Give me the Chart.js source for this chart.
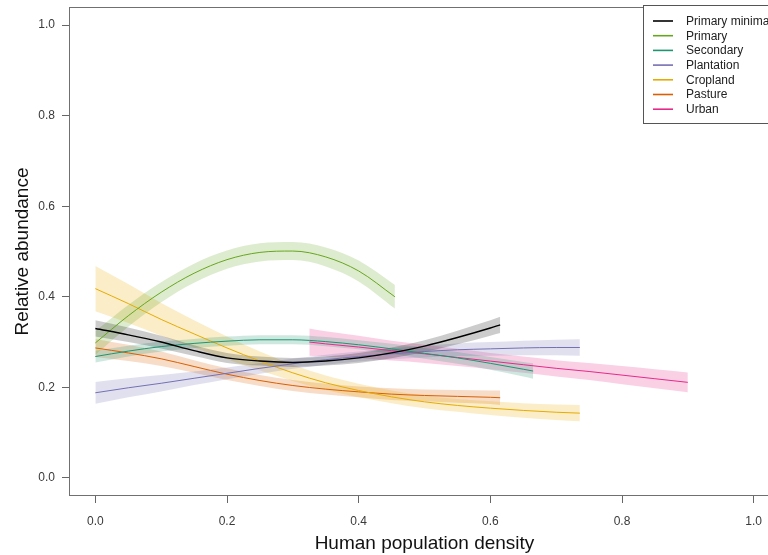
<!DOCTYPE html>
<html>
<head>
<meta charset="utf-8">
<title>Relative abundance vs human population density</title>
<script src="https://cdn.jsdelivr.net/npm/chart.js@4.4.1/dist/chart.umd.min.js"></script>
<style>
  html, body { margin: 0; padding: 0; background: #fff; }
  body { width: 768px; height: 555px; overflow: hidden; }
  #wrap { width: 780px; height: 555px; }
</style>
</head>
<body>
<div id="wrap"><canvas id="c" width="780" height="555"></canvas></div>
<script>
// Land-use series: fitted relative abundance with lower/upper confidence bounds
const seriesNames  = ['Primary minimal', 'Primary', 'Secondary', 'Plantation', 'Cropland', 'Pasture', 'Urban'];
const seriesColors = ['#000000', '#66A61E', '#1F9470', '#7570B3', '#E6AB02', '#D95F02', '#E7298A'];

const xTicks = [0, 0.2, 0.4, 0.6, 0.8, 1.0];
const yTicks = [0, 0.2, 0.4, 0.6, 0.8, 1.0];

// Primary minimal
const primMinX    = [0, 0.05, 0.1, 0.15, 0.2, 0.25, 0.3, 0.35, 0.4, 0.45, 0.5, 0.55, 0.6, 0.615];
const primMinMean = [0.330, 0.316, 0.300, 0.281, 0.265, 0.258, 0.255, 0.258, 0.265, 0.276, 0.291, 0.310, 0.331, 0.338];
const primMinLow  = [0.312, 0.300, 0.286, 0.269, 0.254, 0.248, 0.245, 0.248, 0.254, 0.264, 0.278, 0.295, 0.314, 0.320];
const primMinHigh = [0.348, 0.332, 0.314, 0.293, 0.276, 0.268, 0.265, 0.268, 0.276, 0.288, 0.304, 0.325, 0.348, 0.356];

// Primary
const primX    = [0, 0.05, 0.1, 0.15, 0.2, 0.25, 0.3, 0.35, 0.4, 0.455];
const primMean = [0.298, 0.358, 0.410, 0.452, 0.482, 0.498, 0.501, 0.488, 0.457, 0.400];
const primLow  = [0.272, 0.334, 0.388, 0.431, 0.462, 0.478, 0.481, 0.467, 0.434, 0.374];
const primHigh = [0.324, 0.382, 0.432, 0.473, 0.502, 0.518, 0.521, 0.509, 0.480, 0.426];

// Secondary
const secX    = [0, 0.05, 0.1, 0.15, 0.2, 0.25, 0.3, 0.35, 0.4, 0.45, 0.5, 0.55, 0.6, 0.65, 0.665];
const secMean = [0.268, 0.280, 0.290, 0.297, 0.302, 0.305, 0.305, 0.301, 0.294, 0.285, 0.275, 0.265, 0.253, 0.240, 0.236];
const secLow  = [0.255, 0.268, 0.279, 0.287, 0.292, 0.295, 0.295, 0.291, 0.284, 0.274, 0.263, 0.252, 0.239, 0.224, 0.219];
const secHigh = [0.281, 0.292, 0.301, 0.307, 0.312, 0.315, 0.315, 0.311, 0.304, 0.296, 0.287, 0.278, 0.267, 0.256, 0.253];

// Plantation
const plantX    = [0, 0.05, 0.1, 0.15, 0.2, 0.25, 0.3, 0.35, 0.4, 0.45, 0.5, 0.55, 0.6, 0.65, 0.7, 0.736];
const plantMean = [0.188, 0.199, 0.209, 0.220, 0.231, 0.242, 0.252, 0.261, 0.268, 0.274, 0.279, 0.283, 0.285, 0.287, 0.288, 0.288];
const plantLow  = [0.164, 0.178, 0.191, 0.205, 0.218, 0.230, 0.241, 0.250, 0.257, 0.262, 0.266, 0.269, 0.270, 0.271, 0.271, 0.270];
const plantHigh = [0.212, 0.220, 0.227, 0.235, 0.244, 0.254, 0.263, 0.272, 0.279, 0.286, 0.292, 0.297, 0.300, 0.303, 0.305, 0.306];

// Cropland
const cropX    = [0, 0.05, 0.1, 0.15, 0.2, 0.25, 0.3, 0.35, 0.4, 0.45, 0.5, 0.55, 0.6, 0.65, 0.7, 0.736];
const cropMean = [0.418, 0.385, 0.350, 0.318, 0.287, 0.258, 0.232, 0.210, 0.193, 0.179, 0.168, 0.160, 0.154, 0.149, 0.145, 0.143];
const cropLow  = [0.368, 0.342, 0.314, 0.288, 0.262, 0.237, 0.214, 0.194, 0.178, 0.165, 0.154, 0.146, 0.139, 0.133, 0.128, 0.125];
const cropHigh = [0.468, 0.428, 0.386, 0.348, 0.312, 0.279, 0.250, 0.226, 0.208, 0.193, 0.182, 0.174, 0.169, 0.165, 0.162, 0.161];

// Pasture
const pastX    = [0, 0.05, 0.1, 0.15, 0.2, 0.25, 0.3, 0.35, 0.4, 0.45, 0.5, 0.55, 0.6, 0.615];
const pastMean = [0.287, 0.276, 0.263, 0.246, 0.229, 0.215, 0.204, 0.196, 0.190, 0.185, 0.182, 0.180, 0.178, 0.177];
const pastLow  = [0.267, 0.258, 0.247, 0.232, 0.216, 0.203, 0.192, 0.184, 0.178, 0.172, 0.169, 0.166, 0.163, 0.161];
const pastHigh = [0.307, 0.294, 0.279, 0.260, 0.242, 0.227, 0.216, 0.208, 0.202, 0.198, 0.195, 0.194, 0.193, 0.193];

// Urban
const urbX    = [0.325, 0.35, 0.4, 0.45, 0.5, 0.55, 0.6, 0.65, 0.7, 0.75, 0.8, 0.85, 0.9];
const urbMean = [0.300, 0.296, 0.289, 0.281, 0.274, 0.266, 0.258, 0.250, 0.242, 0.235, 0.227, 0.219, 0.211];
const urbLow  = [0.270, 0.268, 0.264, 0.259, 0.254, 0.247, 0.240, 0.232, 0.224, 0.216, 0.207, 0.198, 0.189];
const urbHigh = [0.330, 0.324, 0.314, 0.303, 0.294, 0.285, 0.276, 0.268, 0.260, 0.254, 0.247, 0.240, 0.233];

const seriesData = [
  [primMinX, primMinMean, primMinLow, primMinHigh],
  [primX, primMean, primLow, primHigh],
  [secX, secMean, secLow, secHigh],
  [plantX, plantMean, plantLow, plantHigh],
  [cropX, cropMean, cropLow, cropHigh],
  [pastX, pastMean, pastLow, pastHigh],
  [urbX, urbMean, urbLow, urbHigh]
];

function rgba(hex, a) {
  const n = parseInt(hex.slice(1), 16);
  return `rgba(${(n >> 16) & 255},${(n >> 8) & 255},${n & 255},${a})`;
}
const pts = (xs, ys) => xs.map((x, i) => ({ x: x, y: ys[i] }));

// Each series: lower bound, upper bound filled down to it, then the fitted line
const datasets = [];
seriesData.forEach(([xs, mean, low, high], i) => {
  const col = seriesColors[i];
  const band = rgba(col, i === 0 ? 0.2 : 0.22);
  datasets.push({
    data: pts(xs, low), borderWidth: 0, pointRadius: 0, fill: false,
    cubicInterpolationMode: 'monotone', order: 2
  });
  datasets.push({
    data: pts(xs, high), borderWidth: 0, pointRadius: 0, fill: '-1',
    backgroundColor: band, cubicInterpolationMode: 'monotone', order: 2
  });
  datasets.push({
    label: seriesNames[i], data: pts(xs, mean), borderColor: col,
    borderWidth: i === 0 ? 1.4 : 1, pointRadius: 0, fill: false,
    cubicInterpolationMode: 'monotone', order: 1
  });
});

const FONT = '"Liberation Sans", Arial, Helvetica, sans-serif';

// Full box around the plotting region
const framePlugin = {
  id: 'frame',
  afterDatasetsDraw(chart) {
    const { ctx, chartArea: a } = chart;
    ctx.save();
    ctx.strokeStyle = '#707070';
    ctx.lineWidth = 1;
    ctx.strokeRect(Math.round(a.left) + 0.5, Math.round(a.top) + 0.5,
                   Math.round(a.right - a.left), Math.round(a.bottom - a.top) - 1);
    ctx.restore();
  }
};

// Boxed legend in the top-right corner
const boxLegend = {
  id: 'boxLegend',
  afterDraw(chart) {
    const { ctx } = chart;
    const x0 = 643, y0 = 5, rowH = 14.7;
    ctx.save();
    ctx.fillStyle = '#ffffff';
    ctx.fillRect(x0 + 0.5, y0 + 0.5, 200, 118);
    ctx.strokeStyle = '#555555';
    ctx.lineWidth = 1;
    ctx.strokeRect(x0 + 0.5, y0 + 0.5, 200, 118);
    ctx.font = '12px ' + FONT;
    ctx.textBaseline = 'middle';
    ctx.textAlign = 'left';
    seriesNames.forEach((name, i) => {
      const y = y0 + 16 + i * rowH;
      ctx.strokeStyle = seriesColors[i];
      ctx.lineWidth = 1.6;
      ctx.beginPath();
      ctx.moveTo(x0 + 10, y);
      ctx.lineTo(x0 + 30, y);
      ctx.stroke();
      ctx.fillStyle = '#222222';
      ctx.fillText(name, x0 + 43, y + 0.5);
    });
    ctx.restore();
  }
};

new Chart(document.getElementById('c'), {
  type: 'line',
  data: { datasets },
  options: {
    responsive: false,
    animation: false,
    devicePixelRatio: 1,
    layout: { padding: { top: 7, right: 0, left: 0, bottom: 0 } },
    plugins: { legend: { display: false }, tooltip: { enabled: false } },
    scales: {
      x: {
        type: 'linear', min: -0.04, max: 1.04,
        afterBuildTicks(s) { s.ticks = xTicks.map(v => ({ value: v })); },
        afterFit(s) { s.height = 59; s.paddingLeft = 0; s.paddingRight = 0; },
        grid: { drawOnChartArea: false, drawTicks: true, tickLength: 7, color: '#666666' },
        border: { display: false },
        ticks: { padding: 11, color: '#3a3a3a', font: { family: FONT, size: 12 },
                 maxRotation: 0, callback: v => v.toFixed(1) },
        title: { display: true, text: 'Human population density', color: '#111111',
                 font: { family: FONT, size: 19 }, padding: { top: 0, bottom: 0 } }
      },
      y: {
        type: 'linear', min: -0.04, max: 1.04,
        afterBuildTicks(s) { s.ticks = yTicks.map(v => ({ value: v })); },
        afterFit(s) { s.width = 69; s.paddingTop = 0; s.paddingBottom = 0; },
        grid: { drawOnChartArea: false, drawTicks: true, tickLength: 7, color: '#666666' },
        border: { display: false },
        ticks: { padding: 7, color: '#3a3a3a', font: { family: FONT, size: 12 },
                 callback: v => v.toFixed(1) },
        title: { display: true, text: 'Relative abundance', color: '#111111',
                 font: { family: FONT, size: 19 }, padding: { top: 11, bottom: 0 } }
      }
    }
  },
  plugins: [framePlugin, boxLegend]
});
</script>
</body>
</html>
